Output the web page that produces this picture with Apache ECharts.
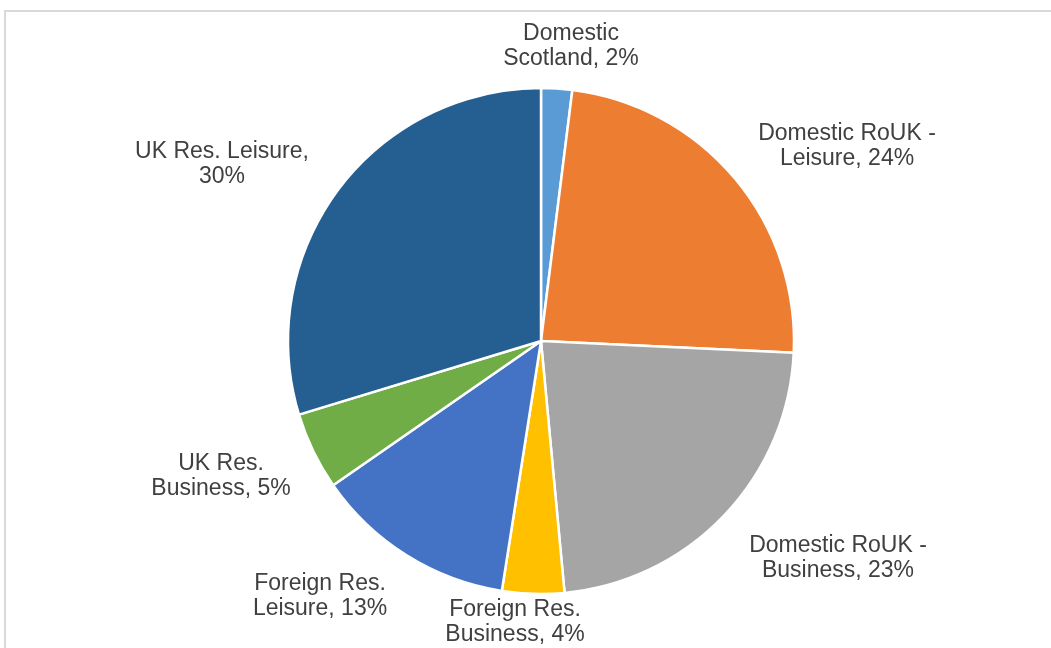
<!DOCTYPE html>
<html>
<head>
<meta charset="utf-8">
<script src="https://cdn.jsdelivr.net/npm/echarts@6/dist/echarts.min.js"></script>
<style>
  html, body { margin: 0; padding: 0; background: #ffffff; }
  #chart { width: 1051px; height: 648px; }
</style>
</head>
<body>
<div id="chart"></div>
<script>
// Visitor segments (a line break marks where the label wraps;
// names without one put the share on its own line)
const categories = [
  'Domestic\nScotland',
  'Domestic RoUK -\nLeisure',
  'Domestic RoUK -\nBusiness',
  'Foreign Res.\nBusiness',
  'Foreign Res.\nLeisure',
  'UK Res.\nBusiness',
  'UK Res. Leisure'
];
// Share of total, per cent
const shares = [2, 24, 23, 4, 13, 5, 30];
const colors = ['#5B9BD5', '#ED7D31', '#A5A5A5', '#FFC000', '#4472C4', '#70AD47', '#255E91'];

// Pie geometry and label placement (label centre relative to pie centre)
const CENTER = [541, 341];
const RADIUS = 253;
const labelOffsets = [
  [30, -295], [306, -195], [297, 217], [-26, 281],
  [-221, 255], [-320, 135], [-319, -177]
];

const chart = echarts.init(document.getElementById('chart'), null, { renderer: 'canvas' });

chart.setOption({
  backgroundColor: '#ffffff',
  animation: false,
  graphic: [{
    type: 'rect',
    silent: true,
    shape: { x: 5, y: 11, width: 1200, height: 800 },
    style: { fill: 'none', stroke: '#d9d9d9', lineWidth: 2 }
  }],
  series: [{
    type: 'pie',
    center: CENTER,
    radius: RADIUS,
    startAngle: 90,
    clockwise: true,
    avoidLabelOverlap: false,
    itemStyle: { borderColor: '#ffffff', borderWidth: 2.5 },
    label: {
      show: true,
      position: 'outside',
      color: '#404040',
      fontFamily: '"Liberation Sans", Arial, sans-serif',
      fontSize: 23,
      lineHeight: 25,
      align: 'center',
      formatter: function (p) {
        const sep = p.name.indexOf('\n') >= 0 ? ', ' : ',\n';
        return p.name + sep + p.value + '%';
      }
    },
    labelLine: { show: false },
    labelLayout: function (p) {
      const off = labelOffsets[p.dataIndex];
      return {
        x: CENTER[0] + off[0],
        y: CENTER[1] + off[1],
        align: 'center',
        verticalAlign: 'middle'
      };
    },
    emphasis: { disabled: true },
    data: categories.map(function (name, i) {
      return { name: name, value: shares[i], itemStyle: { color: colors[i] } };
    })
  }]
});
</script>
</body>
</html>
